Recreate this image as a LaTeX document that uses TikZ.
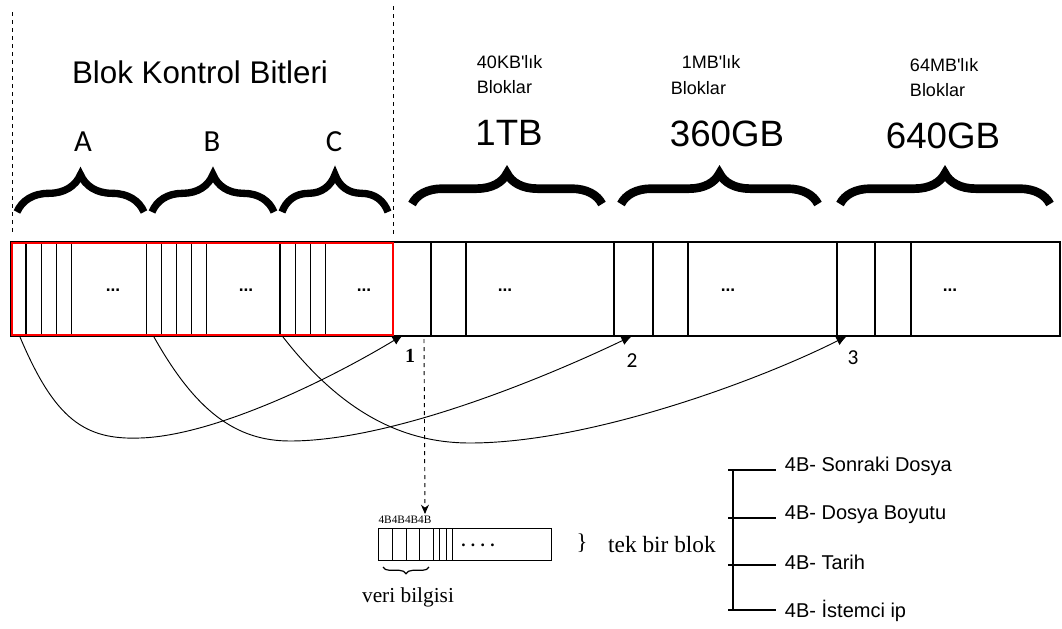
\documentclass[tikz,border=0pt]{standalone}
\usepackage{fontspec}
\setmainfont{Liberation Sans}
\newfontfamily\arialnm{Liberation Sans}
\newfontfamily\calfont{Carlito}
\newfontfamily\tmsfont{Liberation Serif}
\usetikzlibrary{decorations.pathreplacing,arrows.meta}
\begin{document}
\begin{tikzpicture}[x=0.75pt,y=-0.75pt,line width=0.8pt,
  bigbrace/.style={decorate,decoration={brace,amplitude=23pt},line width=6.5pt},
  lbrace/.style={decorate,decoration={brace,amplitude=28pt},line width=5.5pt},
  dotslbl/.style={font=\fontsize{13}{13}\selectfont\bfseries},
  sizelbl/.style={font=\fontsize{27.5}{30}\selectfont},
  smalllbl/.style={font=\arialnm\fontsize{13.5}{15}\selectfont,anchor=west},
  listlbl/.style={font=\fontsize{15}{16}\selectfont,anchor=west},
  curvearrow/.style={-{Latex[length=8pt,width=7pt]},line width=0.7pt}]
\useasboundingbox (0,0) rectangle (1062,628);

% dashed separators
\draw[dashed,line width=0.6pt] (12,12) -- (12,234);
\draw[dashed,line width=0.6pt] (393,6) -- (393,234);

% titles
\node (title) at (200,72) {\fontsize{23.5}{25}\selectfont Blok Kontrol Bitleri};
\node (lA) at (83,142) {\calfont\fontsize{23}{24}\selectfont A};
\node (lB) at (212,142) {\calfont\fontsize{23}{24}\selectfont B};
\node (lC) at (334,142) {\calfont\fontsize{23}{24}\selectfont C};

\draw[lbrace] (17,212) -- (144,212);
\draw[lbrace] (152,212) -- (274,212);
\draw[lbrace] (282,212) -- (388,212);

\node[smalllbl] (k1) at (472,62) {40KB'lık};
\node[smalllbl] (b1) at (472,87) {Bloklar};
\node[smalllbl] (k2) at (677,62) {1MB'lık};
\node[smalllbl] (b2) at (666,88) {Bloklar};
\node[smalllbl] (k3) at (905,65) {64MB'lık};
\node[smalllbl] (b3) at (905,90) {Bloklar};

\node[sizelbl] (s1) at (509,133) {1TB};
\node[sizelbl] (s2) at (727,134) {360GB};
\node[sizelbl] (s3) at (943,136) {640GB};

\draw[bigbrace] (412,204) -- (602,204);
\draw[bigbrace] (621,204) -- (818,204);
\draw[bigbrace] (840,204) -- (1050,204);

% main bar
\draw (11,242) rectangle (1060,336);
\foreach \x in {26,41.3,56.7,71.7,146.7,161.7,176.7,191.7,206.7,280,295.3,310.7,325.7,431,466,614,653,688,837,875,911}
  \draw (\x,242) -- (\x,336);
\draw[red,line width=1pt] (12,243) rectangle (393,335);

\foreach \x/\n in {113/d1,246/d2,364/d3,505/d4,728/d5,950/d6}
  \node[dotslbl] (\n) at (\x,290) {...};

% coordinates for connectors
\coordinate (sa) at (20,337);
\coordinate (sb) at (154,337);
\coordinate (sc) at (283,337);
\coordinate (e1) at (403,335);
\coordinate (e2) at (632,336);
\coordinate (e3) at (847,336);

\draw[curvearrow] (sa) .. controls (55,420) and (85,440) .. (140,438)
  .. controls (210,436) and (320,385) .. (e1);
\draw[curvearrow] (sb) .. controls (195,410) and (235,441) .. (290,441)
  .. controls (390,441) and (540,380) .. (e2);
\draw[curvearrow] (sc) .. controls (340,410) and (400,443) .. (470,443)
  .. controls (590,443) and (760,380) .. (e3);

\node (n1) at (410,356) {\tmsfont\bfseries\fontsize{15}{16}\selectfont 1};
\node (n2) at (632,361) {\calfont\fontsize{16}{16}\selectfont 2};
\node (n3) at (853,358) {\calfont\fontsize{16}{16}\selectfont 3};

% dashed pointer to single block
\coordinate (p1) at (424,339);
\coordinate (p2) at (425,514);
\draw[dashed,-{Stealth[length=7pt,width=6pt]},line width=0.7pt] (p1) -- (p2);

% single block
\draw[line width=0.7pt] (378,528) rectangle (551,560);
\foreach \x in {392,406,419,433,439.5,446,452}
  \draw[line width=0.7pt] (\x,528) -- (\x,560);
\node (bb) at (478,545) {\tmsfont\bfseries\fontsize{13}{14}\selectfont .\hspace{4pt}.\hspace{4pt}.\hspace{4pt}.};
\node (fourb) at (405,520) {\tmsfont\fontsize{8.5}{9}\selectfont 4B4B4B4B};
\draw[decorate,decoration={brace,mirror,amplitude=5pt},line width=0.9pt] (383,567) -- (429,567);
\node (veri) at (408,597) {\tmsfont\fontsize{16}{17}\selectfont veri bilgisi};
\node (rb) at (582,543) {\tmsfont\fontsize{17}{18}\selectfont \}};
\node (tek) at (662,545) {\tmsfont\fontsize{17.5}{18}\selectfont tek bir blok};

% list
\draw (733,470) -- (733,610);
\foreach \y in {470,518,565,610} \draw (728,\y) -- (776,\y);
\node[listlbl] (i1) at (780,466) {4B- Sonraki Dosya};
\node[listlbl] (i2) at (780,515) {4B- Dosya Boyutu};
\node[listlbl] (i3) at (780,562) {4B- Tarih};
\node[listlbl] (i4) at (780,611) {4B- İstemci ip};
\end{tikzpicture}
\end{document}
